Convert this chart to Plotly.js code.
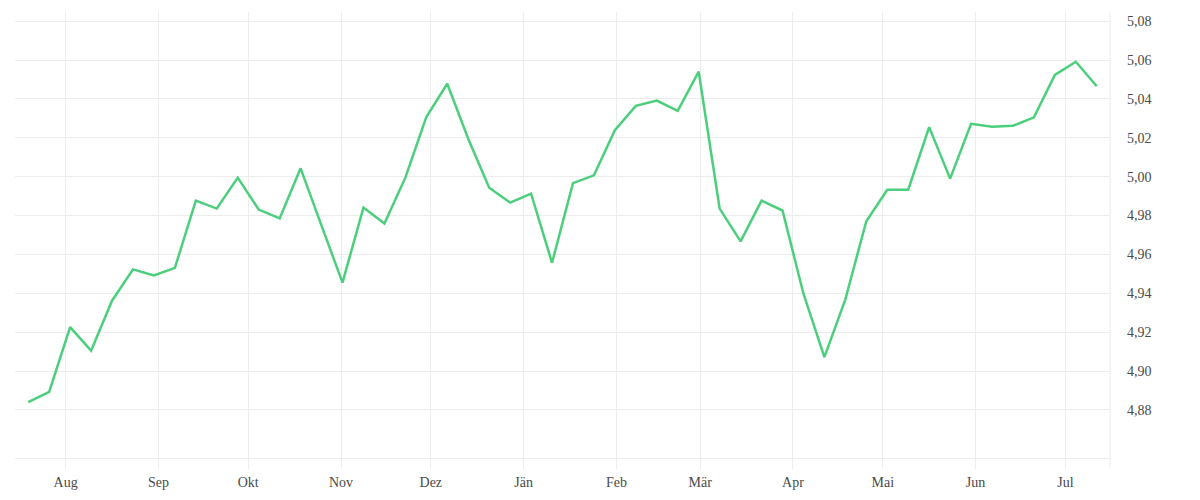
<!DOCTYPE html>
<html lang="de">

<head>
    <meta charset="utf-8">
    <title>Wochenverlauf</title>
    <script src="https://cdn.plot.ly/plotly-3.0.1.min.js"></script>
    <style>
        html,
        body {
            margin: 0;
            padding: 0;
            background: #fff;
        }

        #plot {
            width: 1200px;
            height: 500px;
        }
    </style>
</head>

<body>
    <div id="plot"></div>

    <script>
        // weekly values
        const dates = [
            "2024-07-19 12:00", "2024-07-26 12:00",
            "2024-08-02 12:00", "2024-08-09 12:00", "2024-08-16 12:00", "2024-08-23 12:00", "2024-08-30 12:00",
            "2024-09-06 12:00", "2024-09-13 12:00", "2024-09-20 12:00", "2024-09-27 12:00",
            "2024-10-04 12:00", "2024-10-11 12:00", "2024-10-18 12:00", "2024-10-25 12:00",
            "2024-11-01 12:00", "2024-11-08 12:00", "2024-11-15 12:00", "2024-11-22 12:00", "2024-11-29 12:00",
            "2024-12-06 12:00", "2024-12-13 12:00", "2024-12-20 12:00", "2024-12-27 12:00",
            "2025-01-03 12:00", "2025-01-10 12:00", "2025-01-17 12:00", "2025-01-24 12:00", "2025-01-31 12:00",
            "2025-02-07 12:00", "2025-02-14 12:00", "2025-02-21 12:00", "2025-02-28 12:00",
            "2025-03-07 12:00", "2025-03-14 12:00", "2025-03-21 12:00", "2025-03-28 12:00",
            "2025-04-04 12:00", "2025-04-11 12:00", "2025-04-18 12:00", "2025-04-25 12:00",
            "2025-05-02 12:00", "2025-05-09 12:00", "2025-05-16 12:00", "2025-05-23 12:00", "2025-05-30 12:00",
            "2025-06-06 12:00", "2025-06-13 12:00", "2025-06-20 12:00", "2025-06-27 12:00",
            "2025-07-04 12:00", "2025-07-11 12:00"
        ];

        const values = [
            4.884, 4.8893,
            4.9226, 4.9105, 4.9362, 4.9523, 4.9492,
            4.9531, 4.9877, 4.9836, 4.9995,
            4.9831, 4.9785, 5.0043, 4.9748,
            4.9455, 4.9841, 4.9759, 4.9995, 5.0307,
            5.0478, 5.0195, 4.9943, 4.9867,
            4.9913, 4.9557, 4.9967, 5.0007, 5.0239,
            5.0364, 5.0391, 5.0338, 5.054,
            4.9836, 4.9667, 4.9877, 4.9826,
            4.9398, 4.9072, 4.9369, 4.9771,
            4.9933, 4.9933, 5.0255, 4.999, 5.0272,
            5.0257, 5.0262, 5.0305, 5.0523,
            5.0591, 5.0465
        ];

        const monthTicks = [
            "2024-08-01", "2024-09-01", "2024-10-01", "2024-11-01", "2024-12-01", "2025-01-01",
            "2025-02-01", "2025-03-01", "2025-04-01", "2025-05-01", "2025-06-01", "2025-07-01"
        ];
        const monthLabels = ["Aug", "Sep", "Okt", "Nov", "Dez", "Jän", "Feb", "Mär", "Apr", "Mai", "Jun", "Jul"];

        const yTicks = [4.88, 4.90, 4.92, 4.94, 4.96, 4.98, 5.00, 5.02, 5.04, 5.06, 5.08];

        const gridColor = "#ececec";
        const textColor = "#4a4a4a";

        const trace = {
            x: dates,
            y: values,
            type: "scatter",
            mode: "lines",
            line: { color: "#4ccf7c", width: 2.5 },
            hoverinfo: "x+y"
        };

        const layout = {
            width: 1200,
            height: 500,
            margin: { l: 15, r: 90, t: 12, b: 42 },
            paper_bgcolor: "#fff",
            plot_bgcolor: "#fff",
            showlegend: false,
            separators: ",.",
            font: { family: "Liberation Serif, DejaVu Serif, serif", size: 14, color: textColor },
            xaxis: {
                type: "date",
                range: ["2024-07-15 02:00", "2025-07-15 22:00"],
                tickmode: "array",
                tickvals: monthTicks,
                ticktext: monthLabels,
                showgrid: true,
                gridcolor: gridColor,
                gridwidth: 1,
                ticks: "outside",
                ticklen: 10,
                tickcolor: gridColor,
                tickwidth: 1,
                showline: true,
                linecolor: gridColor,
                linewidth: 1,
                zeroline: false,
                ticklabelstandoff: 1
            },
            yaxis: {
                side: "right",
                range: [4.8553, 5.0847],
                tickmode: "array",
                tickvals: yTicks,
                tickformat: ".2f",
                showgrid: true,
                gridcolor: gridColor,
                gridwidth: 1,
                showline: false,
                zeroline: false,
                ticks: "",
                ticklabelstandoff: 16
            },
            shapes: [{
                type: "line",
                xref: "paper",
                yref: "paper",
                x0: 1, x1: 1,
                y0: -0.0224, y1: 1,
                line: { color: gridColor, width: 1 }
            }]
        };

        Plotly.newPlot("plot", [trace], layout, { displayModeBar: false, staticPlot: true });
    </script>
</body>

</html>
